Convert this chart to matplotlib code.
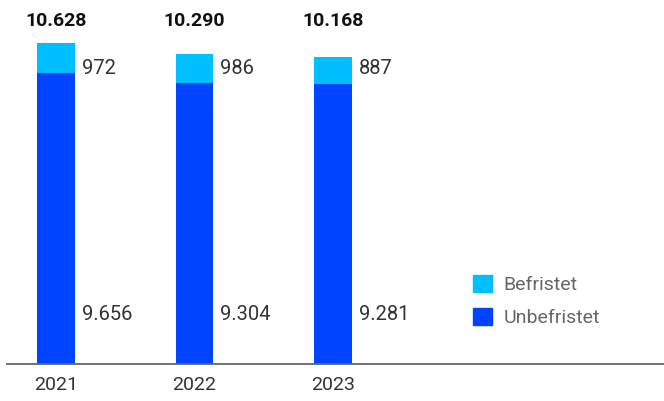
import matplotlib.pyplot as plt
from matplotlib.patches import Patch

plt.rcParams['font.family'] = ['Roboto', 'DejaVu Sans']

years = ['2021', '2022', '2023']
unbefristet = [9656, 9304, 9281]
befristet = [972, 986, 887]
totals = [10628, 10290, 10168]

dark = '#0044ff'
light = '#00bfff'

def fmt(v):
    return f'{v:,}'.replace(',', '.')

fig = plt.figure(figsize=(6.64, 4.01), dpi=100)
ax = fig.add_axes([7/664, 37/401, 657/664, 362/401])

x = list(range(len(years)))
w = 0.274
ax.bar(x, unbefristet, width=w, color=dark)
ax.bar(x, befristet, width=w, bottom=unbefristet, color=light)

ax.set_xlim(-0.354, 4.39)
ax.set_ylim(0, 12000)

tr = ax.get_xaxis_transform()
for i in x:
    ax.text(i, (364 - 21)/362, fmt(totals[i]), transform=tr,
            ha='center', va='center', fontsize=14, fontweight='bold', color='#111111')
    ax.text(i + w/2 + 0.05, (364 - 69)/362, fmt(befristet[i]), transform=tr,
            ha='left', va='center', fontsize=14.5, color='#333333')
    ax.text(i + w/2 + 0.05, (364 - 315)/362, fmt(unbefristet[i]), transform=tr,
            ha='left', va='center', fontsize=14.5, color='#333333')

ax.set_xticks(x)
ax.set_xticklabels(years, fontsize=14, color='#333333')
ax.tick_params(axis='x', length=0, pad=9)
ax.set_yticks([])
for s in ['top', 'right', 'left']:
    ax.spines[s].set_visible(False)
ax.spines['bottom'].set_color('#666666')
ax.spines['bottom'].set_linewidth(1.3)

handles = [Patch(color=light), Patch(color=dark)]
leg = fig.legend(handles, ['Befristet', 'Unbefristet'], loc='upper left',
                 bbox_to_anchor=(473/664, 1 - 275/401), frameon=False,
                 prop={'size': 14},
                 handlelength=1.0, handleheight=1.0, handletextpad=0.55,
                 labelspacing=0.7, borderpad=0, borderaxespad=0)
for t in leg.get_texts():
    t.set_color('#666666')

fig.savefig('out.png', dpi=100)
